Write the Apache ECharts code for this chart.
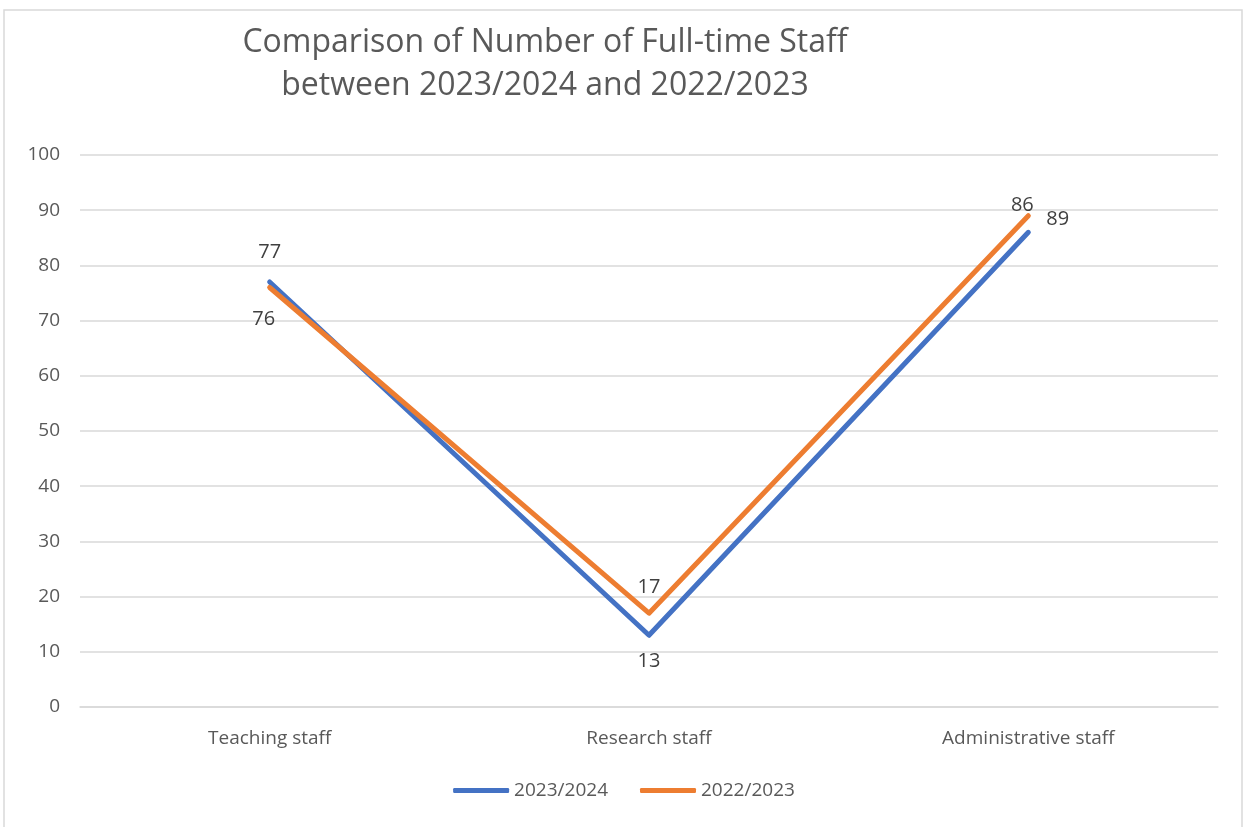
<!DOCTYPE html>
<html>
<head>
<meta charset="utf-8">
<script src="https://cdn.jsdelivr.net/npm/echarts@6/dist/echarts.min.js"></script>
<style>
  html, body { margin: 0; padding: 0; background: #fff; }
  #chart { width: 1248px; height: 827px; }
</style>
</head>
<body>
<div id="chart"></div>
<script>
const categories = ["Teaching staff", "Research staff", "Administrative staff"];
const staff2324 = [77, 13, 86];
const staff2223 = [76, 17, 89];
const yTicks = { min: 0, max: 100, interval: 10 };

// label placement per point, mimicking the spreadsheet layout
const labels2324 = [
  { position: "top", distance: 20 },
  { position: "bottom", distance: 16 },
  { position: "top", distance: 22, offset: [-6, 5] },
];
const labels2223 = [
  { position: "bottom", distance: 22, offset: [-6, 0] },
  { position: "top", distance: 16 },
  { position: "right", distance: 18, offset: [0, 4] },
];

const textColor = "#404040";
const font = "'Open Sans', 'Noto Sans', sans-serif";

const toData = (vals, lbls) =>
  vals.map((v, i) => ({ value: v, label: Object.assign({ show: true }, lbls[i]) }));

const chart = echarts.init(document.getElementById("chart"));

chart.setOption({
  animation: false,
  textStyle: { fontFamily: font },
  graphic: [
    {
      type: "rect",
      shape: { x: 4, y: 10, width: 1238, height: 820 },
      style: { fill: "none", stroke: "#d9d9d9", lineWidth: 1.5 },
      silent: true,
    },
  ],
  title: {
    text: "Comparison of Number of Full-time Staff\nbetween 2023/2024 and 2022/2023",
    left: 540,
    top: 16,
    textAlign: "center",
    textStyle: {
      fontFamily: font,
      fontSize: 32,
      fontWeight: "normal",
      color: "#595959",
      lineHeight: 43,
    },
  },
  legend: {
    bottom: 22,
    left: "center",
    itemWidth: 56,
    itemHeight: 5,
    itemGap: 32,
    icon: "roundRect",
    textStyle: { fontSize: 19, color: "#595959", fontFamily: font },
    data: ["2023/2024", "2022/2023"],
  },
  grid: { left: 80, right: 30, top: 155, bottom: 120 },
  xAxis: {
    type: "category",
    data: categories,
    boundaryGap: true,
    axisLine: { lineStyle: { color: "#d9d9d9", width: 1.5 } },
    axisTick: { show: false },
    axisLabel: { fontSize: 19, color: "#595959", margin: 22, fontFamily: font },
  },
  yAxis: {
    type: "value",
    min: yTicks.min,
    max: yTicks.max,
    interval: yTicks.interval,
    axisLine: { show: false },
    axisTick: { show: false },
    axisLabel: { fontSize: 19, color: "#595959", margin: 20, fontFamily: font },
    splitLine: { lineStyle: { color: "#d9d9d9", width: 1.5 } },
  },
  series: [
    {
      name: "2023/2024",
      type: "line",
      data: toData(staff2324, labels2324),
      symbol: "circle",
      symbolSize: 0,
      showSymbol: true,
      color: "#4472C4",
      lineStyle: { width: 5, cap: "round", join: "round" },
      label: { fontSize: 20, color: textColor, fontFamily: font },
      z: 2,
    },
    {
      name: "2022/2023",
      type: "line",
      data: toData(staff2223, labels2223),
      symbol: "circle",
      symbolSize: 0,
      showSymbol: true,
      color: "#ED7D31",
      lineStyle: { width: 5, cap: "round", join: "round" },
      label: { fontSize: 20, color: textColor, fontFamily: font },
      z: 3,
    },
  ],
});
</script>
</body>
</html>
